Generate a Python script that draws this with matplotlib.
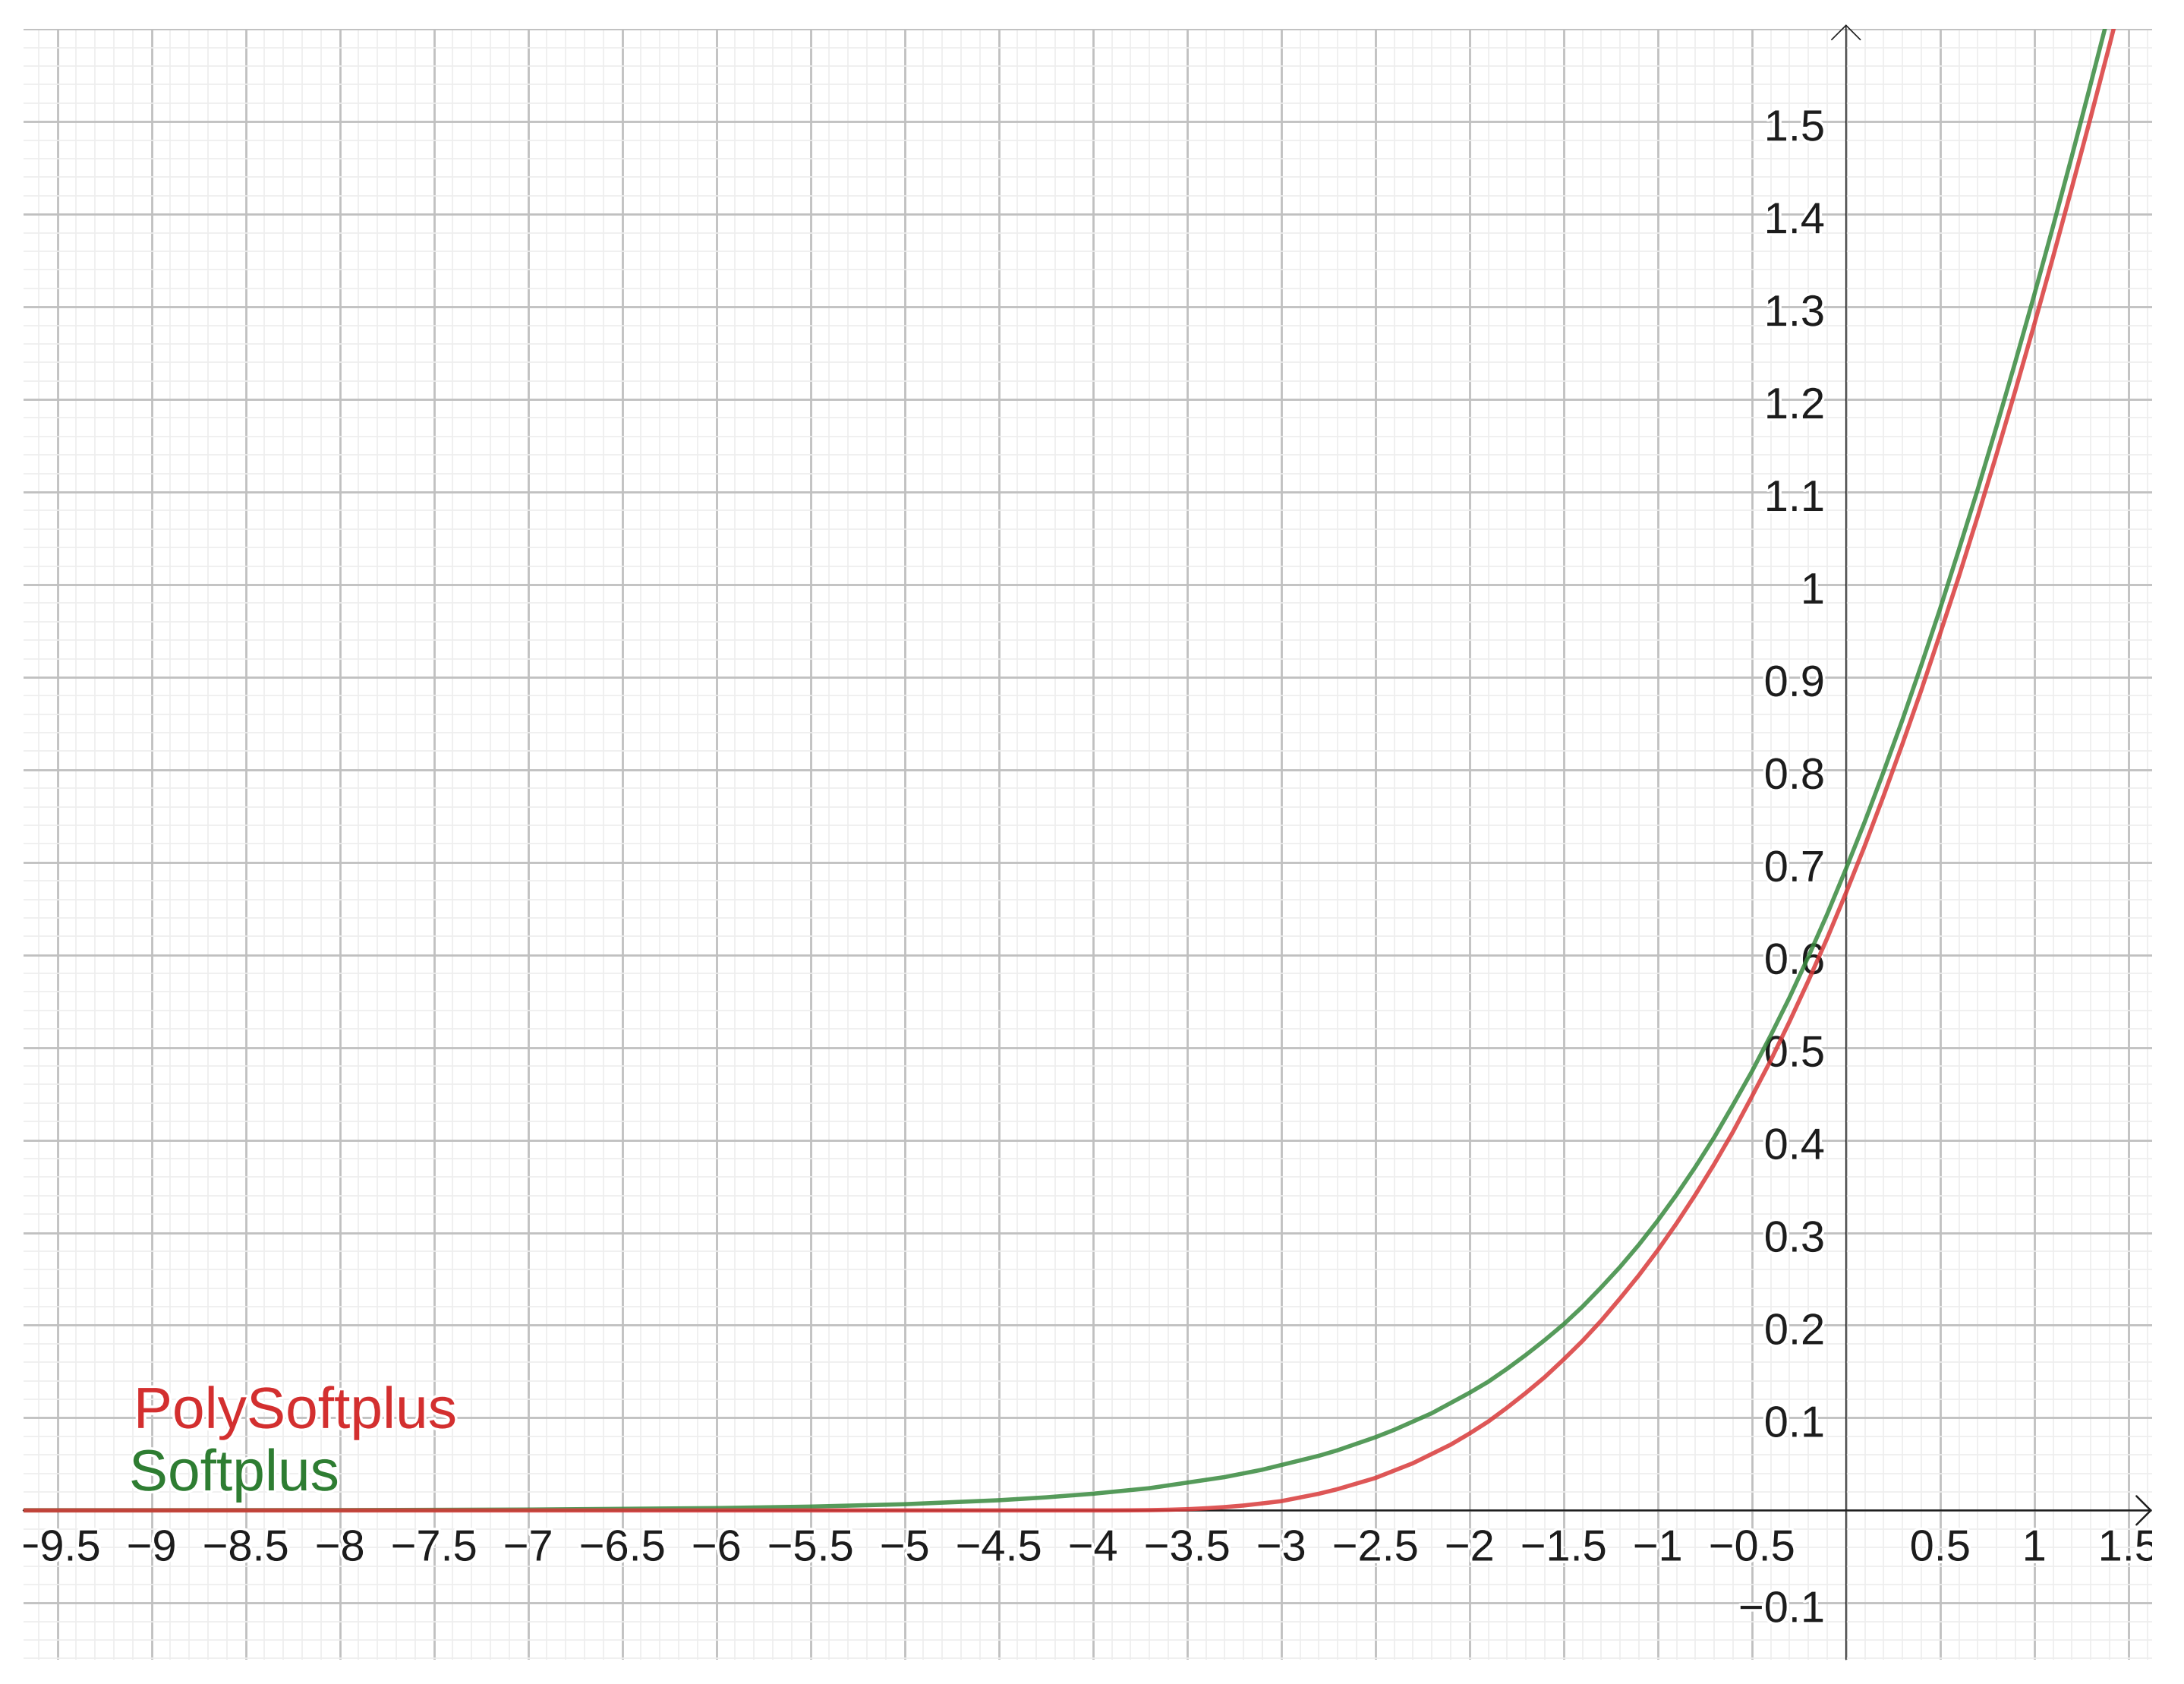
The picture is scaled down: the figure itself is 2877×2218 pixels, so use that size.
import matplotlib
matplotlib.use("Agg")
import matplotlib.pyplot as plt
import matplotlib.patheffects as pe
from matplotlib.ticker import MultipleLocator
from matplotlib.transforms import offset_copy

plt.rcParams["font.family"] = ["Liberation Sans", "DejaVu Sans"]

# values (flat tail first, then every 0.1)
x_vals = [-9.7, -9.0, -8.0, -7.0, -6.0, -5.5, -5.0, -4.5, -4.25,
          -4.0, -3.9, -3.8, -3.7, -3.6, -3.5, -3.4, -3.3, -3.2, -3.1,
          -3.0, -2.9, -2.8, -2.7, -2.6, -2.5, -2.4, -2.3, -2.2, -2.1,
          -2.0, -1.9, -1.8, -1.7, -1.6, -1.5, -1.4, -1.3, -1.2, -1.1,
          -1.0, -0.9, -0.8, -0.7, -0.6, -0.5, -0.4, -0.3, -0.2, -0.1,
          0.0, 0.1, 0.2, 0.3, 0.4, 0.5, 0.6, 0.7, 0.8, 0.9,
          1.0, 1.1, 1.2, 1.3, 1.4, 1.5]
softplus_vals = [0.0001, 0.0001, 0.0003, 0.0009, 0.0025, 0.0041, 0.0067, 0.0110, 0.0141,
                 0.018, 0.020, 0.022, 0.024, 0.027, 0.030, 0.033, 0.036, 0.040, 0.044,
                 0.049, 0.054, 0.059, 0.065, 0.072, 0.079, 0.087, 0.096, 0.105, 0.116,
                 0.127, 0.139, 0.153, 0.168, 0.184, 0.201, 0.220, 0.241, 0.263, 0.287,
                 0.313, 0.341, 0.371, 0.403, 0.438, 0.474, 0.513, 0.554, 0.598, 0.644,
                 0.693, 0.744, 0.798, 0.854, 0.913, 0.974, 1.038, 1.103, 1.171, 1.241,
                 1.313, 1.387, 1.463, 1.541, 1.620, 1.701]
polysoftplus_vals = [0.000, 0.000, 0.000, 0.000, 0.000, 0.000, 0.000, 0.000, 0.000,
                     0.0000, 0.0000, 0.0001, 0.0003, 0.0007, 0.0013, 0.0023, 0.0036, 0.0053, 0.0076,
                     0.010, 0.014, 0.018, 0.023, 0.029, 0.035, 0.043, 0.051, 0.061, 0.071,
                     0.083, 0.096, 0.111, 0.127, 0.144, 0.163, 0.183, 0.205, 0.229, 0.254,
                     0.281, 0.310, 0.341, 0.374, 0.409, 0.447, 0.486, 0.528, 0.572, 0.618,
                     0.667, 0.718, 0.772, 0.828, 0.886, 0.947, 1.009, 1.074, 1.141, 1.210,
                     1.281, 1.354, 1.429, 1.505, 1.583, 1.663]

x_ticks = [-9.5, -9, -8.5, -8, -7.5, -7, -6.5, -6, -5.5, -5, -4.5, -4, -3.5,
           -3, -2.5, -2, -1.5, -1, -0.5, 0.5, 1, 1.5]
y_ticks = [-0.1, 0.1, 0.2, 0.3, 0.4, 0.5, 0.6, 0.7, 0.8, 0.9, 1, 1.1, 1.2,
           1.3, 1.4, 1.5]

x_min, x_max = -9.68, 1.626
y_min, y_max = -0.161, 1.6


def fmt(v):
    return f"{v:g}".replace("-", "\u2212")


fig = plt.figure(figsize=(14.385, 11.09), dpi=200)
ax = fig.add_axes([0.010775, 0.014563, 0.97463, 0.96817])
ax.set_xlim(x_min, x_max)
ax.set_ylim(y_min, y_max)
for s in ax.spines.values():
    s.set_visible(False)

# graph paper grid
ax.xaxis.set_major_locator(MultipleLocator(0.5))
ax.xaxis.set_minor_locator(MultipleLocator(0.1))
ax.yaxis.set_major_locator(MultipleLocator(0.1))
ax.yaxis.set_minor_locator(MultipleLocator(0.02))
ax.tick_params(which="both", length=0, labelbottom=False, labelleft=False)
ax.set_axisbelow(True)
ax.grid(which="minor", color="#eeeeee", lw=0.6)
ax.grid(which="major", color="#c0c0c0", lw=1.0)

# axes with open arrow heads
axis_col = "#1f1f1f"
ax.annotate("", xy=(x_max, 0), xytext=(x_min, 0), annotation_clip=False,
            arrowprops=dict(arrowstyle="->,head_length=0.4,head_width=0.4",
                            lw=0.9, color=axis_col, shrinkA=0, shrinkB=0,
                            mutation_scale=17), zorder=2)
ax.annotate("", xy=(0, y_max + 0.005), xytext=(0, y_min), annotation_clip=False,
            arrowprops=dict(arrowstyle="->,head_length=0.4,head_width=0.4",
                            lw=0.6, color=axis_col, shrinkA=0, shrinkB=0,
                            mutation_scale=17), zorder=2)

# tick labels
halo = [pe.withStroke(linewidth=2.5, foreground="white")]
lab_style = dict(fontsize=20.8, color="#1c1c1c", clip_on=True, zorder=3,
                 path_effects=halo)
xlab_tr = offset_copy(ax.transData, fig=fig, y=-23.8, units="points")
for t in x_ticks:
    ax.text(t, 0, fmt(t), transform=xlab_tr, ha="center", va="baseline",
            **lab_style)
ylab_tr = offset_copy(ax.transData, fig=fig, x=-10, y=-9, units="points")
for t in y_ticks:
    ax.text(0, t, fmt(t), transform=ylab_tr, ha="right", va="baseline",
            **lab_style)

# curves
ax.plot(x_vals, softplus_vals, color="#388a3e", lw=2.0, alpha=0.85, zorder=4,
        solid_capstyle="butt", solid_joinstyle="round")
ax.plot(x_vals, polysoftplus_vals, color="#d93a3a", lw=2.0, alpha=0.85,
        zorder=4.5, solid_capstyle="butt", solid_joinstyle="round")

# curve names
ax.text(-9.096, 0.089, "PolySoftplus", color="#d32f2f", fontsize=27.6,
        path_effects=halo, zorder=5)
ax.text(-9.12, 0.0216, "Softplus", color="#2e7d32", fontsize=27.6,
        path_effects=halo, zorder=5)

fig.savefig("out.png", dpi=200, facecolor="white")
